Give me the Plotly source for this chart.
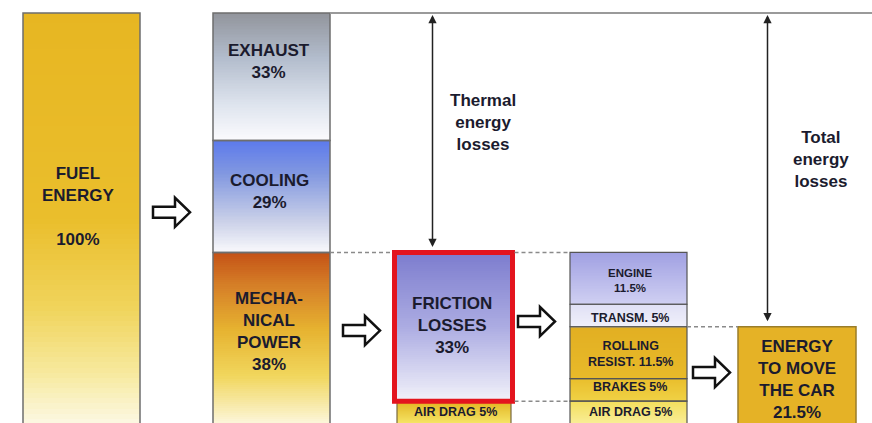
import numpy as np
import plotly.graph_objects as go

# ---------------- data ----------------
fuel_label = "FUEL<br>ENERGY<br><br>{v}%"
fuel_value = 100

engine_labels = ["MECHA-<br>NICAL<br>POWER<br>{v}%", "COOLING<br>{v}%", "EXHAUST<br>{v}%"]
engine_values = [38, 29, 33]

mech_labels = ["AIR DRAG {v}%", "FRICTION<br>LOSSES<br>{v}%"]
mech_values = [5, 33]

loss_labels = ["AIR DRAG {v}%", "BRAKES {v}%", "ROLLING<br>RESIST. {v}%", "TRANSM. {v}%", "ENGINE<br>{v}%"]
loss_values = [5, 5, 11.5, 5, 11.5]

useful_label = "ENERGY<br>TO MOVE<br>THE CAR<br>{v}%"
useful_value = 21.5

span_labels = ["Thermal<br>energy<br>losses", "Total<br>energy<br>losses"]

# ---------------- layout (pixels) ----------------
W, H = 872, 423
Y0_PX, PX_PER = 423.0, 4.5          # y value 0 sits at the bottom edge, 4.5 px per percent
TOP_PX = 13                          # where 100 % is drawn (thermal part compressed)


def py(p):
    """pixel row -> y value"""
    return (Y0_PX - p) / PX_PER


TOP_DISP = py(TOP_PX)
MECH = engine_values[0]


def disp(p):
    if p <= MECH:
        return p
    return MECH + (p - MECH) * (TOP_DISP - MECH) / (100 - MECH)


FUEL_X = (23, 140)
COL2_X = (213, 330)
FRIC_X = (394.5, 512.5)
AIRD_X = (397, 511)
COL3_X = (570, 687)
MOVE_X = (738, 856)

TEXT = "#1b1b2e"
FONT = "Liberation Sans, Arial, sans-serif"

G_FUEL = [[0, "rgb(231,182,34)"], [0.5, "rgb(234,190,44)"], [0.72, "rgb(240,212,92)"],
          [0.88, "rgb(247,234,160)"], [1, "rgb(252,248,228)"]]
G_EXH = [[0, "rgb(146,149,156)"], [0.35, "rgb(178,188,204)"], [0.72, "rgb(222,228,238)"], [1, "rgb(251,251,253)"]]
G_COOL = [[0, "rgb(92,122,236)"], [0.3, "rgb(130,152,224)"], [0.72, "rgb(202,208,232)"], [1, "rgb(249,249,252)"]]
G_MECH = [[0, "rgb(196,82,22)"], [0.2, "rgb(214,128,40)"], [0.45, "rgb(230,178,48)"],
          [0.72, "rgb(241,214,92)"], [1, "rgb(252,246,218)"]]
G_FRIC = [[0, "rgb(124,124,206)"], [0.5, "rgb(172,172,226)"], [1, "rgb(242,242,250)"]]
G_AIRF = [[0, "rgb(226,180,32)"], [1, "rgb(246,230,104)"]]
G_ENG = [[0, "rgb(160,160,226)"], [1, "rgb(208,208,242)"]]
G_TRA = [[0, "rgb(224,224,245)"], [1, "rgb(240,240,251)"]]
G_ROL = [[0, "rgb(226,175,34)"], [1, "rgb(232,186,42)"]]
G_BRK = [[0, "rgb(233,190,44)"], [1, "rgb(240,210,70)"]]
G_AIR3 = [[0, "rgb(243,222,92)"], [1, "rgb(249,238,152)"]]
G_MOVE = [[0, "rgb(229,178,38)"], [1, "rgb(229,178,38)"]]

fig = go.Figure()


def gradient(x0, x1, b, t, stops, n=80):
    ys = np.linspace(b, t, n + 1)
    yc = (ys[:-1] + ys[1:]) / 2
    z = [[(t - y) / (t - b)] for y in yc]
    fig.add_trace(go.Heatmap(x=[x0, x1], y=ys, z=z, colorscale=stops, zmin=0, zmax=1,
                             showscale=False, hoverinfo="skip"))


def outline(xr, bases, tops, color, width):
    xc = (xr[0] + xr[1]) / 2
    fig.add_trace(go.Bar(x=[xc] * len(bases), y=[t - b for b, t in zip(bases, tops)], base=bases,
                         width=[xr[1] - xr[0]] * len(bases),
                         marker=dict(color="rgba(0,0,0,0)", line=dict(color=color, width=width)),
                         hoverinfo="skip", showlegend=False))


def stack(values, mapper=lambda v: v):
    cum = np.concatenate([[0], np.cumsum(values)])
    return [mapper(c) for c in cum[:-1]], [mapper(c) for c in cum[1:]]


def label(x, y, txt, size, dy_px=0):
    fig.add_annotation(x=x, y=y - dy_px / PX_PER, text="<b>" + txt + "</b>", showarrow=False,
                       font=dict(family=FONT, size=size, color=TEXT), xanchor="center", yanchor="middle")


def fmt(tpl, v):
    return tpl.replace("{v}", f"{v:g}")


# fuel column
f_b, f_t = 0, disp(fuel_value)
gradient(*FUEL_X, f_b, f_t, G_FUEL)
outline(FUEL_X, [f_b], [f_t], "#6e6e6e", 1.5)
label(78, (f_b + f_t) / 2, fmt(fuel_label, fuel_value), 17, dy_px=-12)

# engine output column
e_b, e_t = stack(engine_values, disp)
for (b, t, g) in zip(e_b, e_t, [G_MECH, G_COOL, G_EXH]):
    gradient(*COL2_X, b, t, g)
outline(COL2_X, e_b, e_t, "#6e6e6e", 1.5)
for lab, v, b, t, dy in zip(engine_labels, engine_values, e_b, e_t, [-7, -5, -15]):
    label(269, (b + t) / 2, fmt(lab, v), 17, dy_px=dy)

# mechanical power split
m_b, m_t = stack(mech_values)
gradient(*AIRD_X, m_b[0], m_t[0], G_AIRF)
outline(AIRD_X, [m_b[0]], [m_t[0]], "#7a6a40", 1.2)
gradient(*FRIC_X, m_b[1], m_t[1], G_FRIC)
outline(FRIC_X, [m_b[1]], [m_t[1]], "#e3141e", 5)
label(455, (m_b[0] + m_t[0]) / 2, fmt(mech_labels[0], mech_values[0]), 12.5, dy_px=0)
label(452, (m_b[1] + m_t[1]) / 2, fmt(mech_labels[1], mech_values[1]), 17, dy_px=-1)

# losses breakdown column
l_b, l_t = stack(loss_values)
for (b, t, g) in zip(l_b, l_t, [G_AIR3, G_BRK, G_ROL, G_TRA, G_ENG]):
    gradient(*COL3_X, b, t, g)
outline(COL3_X, l_b, l_t, "#555555", 1.2)
for lab, v, b, t, dy, fs in zip(loss_labels, loss_values, l_b, l_t, [0, -3, 1.5, 2, 2],
                                [12.5, 12.5, 12.5, 12.5, 11.5]):
    label(630, (b + t) / 2, fmt(lab, v), fs, dy_px=dy)

# useful energy
gradient(*MOVE_X, 0, useful_value, G_MOVE)
outline(MOVE_X, [0], [useful_value], "#9a7d2a", 1.5)
label(797, useful_value / 2, fmt(useful_label, useful_value), 17, dy_px=4)

# top reference line
fig.add_shape(type="line", x0=COL2_X[1], x1=W, y0=TOP_DISP, y1=TOP_DISP,
              line=dict(color="#9a9a9a", width=2))

# dashed level lines
dash = dict(color="#8a8a8a", width=1.5, dash="4px,3px")
lvl_mech = disp(MECH)
for x0, x1, y in [(COL2_X[1], FRIC_X[0] - 2, lvl_mech), (FRIC_X[1] + 2, COL3_X[0], lvl_mech),
                  (FRIC_X[1] + 2, COL3_X[0], m_t[0]), (COL3_X[1], MOVE_X[0], useful_value)]:
    fig.add_shape(type="line", x0=x0, x1=x1, y0=y, y1=y, line=dash)

# vertical span arrows
for x, y_end, txt, tx, ty in [(432.5, lvl_mech, span_labels[0], 483, 122),
                              (767.5, useful_value, span_labels[1], 821, 159)]:
    fig.add_annotation(x=x, y=y_end + 1.2, ax=x, ay=TOP_DISP - 0.1, xref="x", yref="y",
                       axref="x", ayref="y", text="", showarrow=True, arrowhead=2, arrowsize=1.1,
                       arrowwidth=1.5, arrowcolor="#222222", arrowside="end+start")
    fig.add_annotation(x=tx, y=py(ty), text="<b>" + txt + "</b>", showarrow=False,
                       font=dict(family=FONT, size=17, color=TEXT))


# hollow block arrows
def block_arrow(x0, x1, yc):
    sh, hh, hl = 5.5, 14.5, 15
    xh = x1 - hl
    pts = [(x0, yc - sh), (xh, yc - sh), (xh, yc - hh), (x1, yc), (xh, yc + hh), (xh, yc + sh), (x0, yc + sh)]
    path = "M " + " L ".join(f"{x},{py(y)}" for x, y in pts) + " Z"
    fig.add_shape(type="path", path=path, fillcolor="white", line=dict(color="#111111", width=2.5))


for a in [(153, 190, 212), (343, 380, 330), (518, 555, 321), (693, 730, 372)]:
    block_arrow(*a)

fig.update_layout(
    width=W, height=H, margin=dict(l=0, r=0, t=0, b=0),
    paper_bgcolor="white", plot_bgcolor="white", barmode="overlay", showlegend=False,
    xaxis=dict(range=[0, W], visible=False, fixedrange=True),
    yaxis=dict(range=[py(H) + 0.15, py(0)], visible=False, fixedrange=True),
)

fig.write_html("out.html", config={"displayModeBar": False},
               post_script="document.body.style.margin='0';document.body.style.overflow='hidden';")
